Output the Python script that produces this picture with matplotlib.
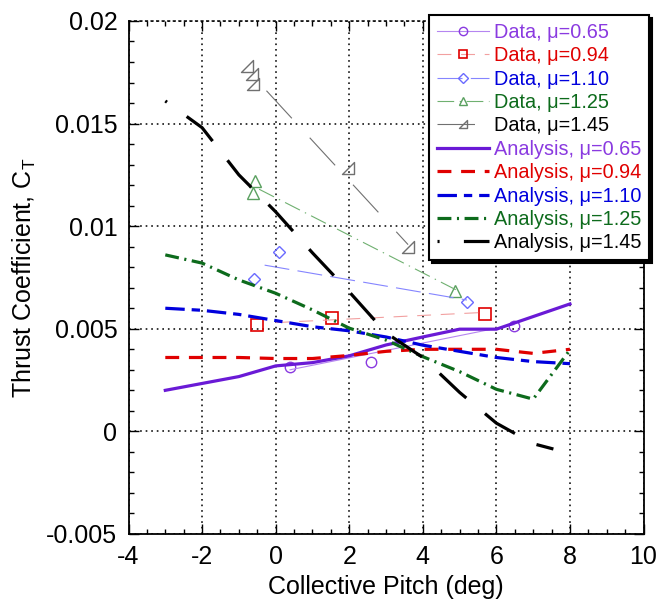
import copy
import matplotlib
matplotlib.use("Agg")
import matplotlib.pyplot as plt
from matplotlib.ticker import MultipleLocator
from matplotlib.path import Path

plt.rcParams['font.family'] = ['Liberation Sans', 'DejaVu Sans']
plt.rcParams['mathtext.fontset'] = 'custom'
plt.rcParams['mathtext.rm'] = 'Liberation Sans'
plt.rcParams['axes.unicode_minus'] = False
plt.rcParams['lines.scale_dashes'] = False

# measured data points
d065_x = [0.39, 2.59, 6.48]
d065_y = [0.00314, 0.00338, 0.00514]
d094_x = [-0.52, 1.54, 5.70]
d094_y = [0.0052, 0.00554, 0.00574]
d110_x = [-0.59, 0.10, 5.21]
d110_y = [0.00743, 0.00876, 0.00632]
d125_x = [-0.56, -0.61, 4.88]
d125_y = [0.01222, 0.01163, 0.00686]
d145_x = [-0.77, -0.65, -0.62, 1.96, 3.59]
d145_y = [0.01782, 0.01742, 0.01692, 0.01282, 0.0090]

# thin fit lines through the data
f065_x = [0.39, 6.48]
f065_y = [0.0030, 0.0052]
f094_x = [0.0, 5.7]
f094_y = [0.0053, 0.0058]
f110_x = [-0.3, 5.2]
f110_y = [0.0081, 0.0064]
f125_x = [-0.45, 4.9]
f125_y = [0.0118, 0.0069]
f145_x = [-0.25, 3.6]
f145_y = [0.0166, 0.0091]

# analysis curves
a065_x = [-3, -1, 0, 1, 2, 3, 4, 5, 6, 8]
a065_y = [0.0020, 0.00267, 0.00319, 0.00335, 0.00368, 0.00421, 0.0046, 0.00498, 0.00498, 0.00621]
a094_x = [-3, -1, 0, 1, 2, 3, 4, 5, 6, 7, 8]
a094_y = [0.0036, 0.0036, 0.00355, 0.00355, 0.0037, 0.0039, 0.0040, 0.0040, 0.0040, 0.0038, 0.0040]
a110_x = [-3, -2, -1, 0, 1, 2, 3, 4, 5, 6, 7, 8]
a110_y = [0.0060, 0.0059, 0.0057, 0.0054, 0.0051, 0.0049, 0.0046, 0.0042, 0.0039, 0.0036, 0.0034, 0.0033]
a125_x = [-3, -2, -1, 0, 1, 2, 3, 4, 5, 6, 7, 8]
a125_y = [0.0086, 0.0082, 0.00738, 0.00673, 0.00592, 0.00503, 0.00445, 0.00364, 0.00291, 0.00205, 0.00157, 0.00397]
a145_x = [-3, -2, -1, 0, 1, 2, 3, 4, 5, 6, 7, 7.55]
a145_y = [0.0161, 0.0148, 0.0125, 0.0107, 0.0087, 0.0068, 0.0048, 0.0036, 0.0019, 0.0004, -0.0006, -0.00086]

purple = '#6a1ad6'
red = '#e00000'
blue = '#0000dd'
green = '#0d6b1c'
black = '#000000'

rtri = Path([(1, 1), (1, -1), (-1, -1), (1, 1)], closed=True)

fig = plt.figure(figsize=(6.56, 6.02), dpi=100)
ax = fig.add_axes([0.1959, 0.1130, 0.7851, 0.8522])

h = []
h.append(ax.plot(d065_x, d065_y, ls='none', marker='o', ms=7.5, mfc='none', mec='#8a3ae0', mew=1.0)[0])
h.append(ax.plot(d094_x, d094_y, ls='none', marker='s', ms=8, mfc='none', mec=red, mew=1.2)[0])
h.append(ax.plot(d110_x, d110_y, ls='none', marker='D', ms=6, mfc='none', mec='#6a6aff', mew=1.0)[0])
h.append(ax.plot(d125_x, d125_y, ls='none', marker='^', ms=8, mfc='none', mec='#5aa060', mew=1.0)[0])
h.append(ax.plot(d145_x, d145_y, ls='none', marker=rtri, ms=8, mfc='none', mec='#707070', mew=1.0)[0])

fits = [
    (f065_x, f065_y, '#b585f0', '-'),
    (f094_x, f094_y, '#f2a0a0', (0, (10, 7))),
    (f110_x, f110_y, '#8585ff', (0, (18, 6))),
    (f125_x, f125_y, '#6fb070', (0, (12, 4, 1, 4))),
    (f145_x, f145_y, '#707070', (0, (27, 19))),
]
data_handles = []
for (fx, fy, c, ls), hd in zip(fits, h):
    ax.plot(fx, fy, color=c, lw=0.8, ls=ls)
    proxy = copy.copy(hd)
    proxy.set_linestyle(ls)
    proxy.set_color(c)
    proxy.set_linewidth(0.8)
    data_handles.append(proxy)

a1, = ax.plot(a065_x, a065_y, color=purple, lw=2.3, ls='-')
a2, = ax.plot(a094_x, a094_y, color=red, lw=2.3, ls=(0, (10, 7)))
a3, = ax.plot(a110_x, a110_y, color=blue, lw=2.3, ls=(0, (14, 5, 6, 5)))
a4, = ax.plot(a125_x, a125_y, color=green, lw=2.3, ls=(0, (10, 4, 1.5, 4)))
a5, = ax.plot(a145_x, a145_y, color=black, lw=2.3, ls=(24.5, (26, 17.5)))

ax.set_xlim(-4, 10)
ax.set_ylim(-0.005, 0.02)
ax.xaxis.set_major_locator(MultipleLocator(2))
ax.xaxis.set_minor_locator(MultipleLocator(0.5))
ax.yaxis.set_minor_locator(MultipleLocator(0.001))
ax.set_yticks([-0.005, 0, 0.005, 0.01, 0.015, 0.02])
ax.set_yticklabels(['-0.005', '0', '0.005', '0.01', '0.015', '0.02'])
ax.tick_params(which='both', direction='in', top=True, right=True, labelsize=18, width=1)
ax.tick_params(which='major', length=7, pad=8)
ax.tick_params(which='minor', length=3.5)
ax.grid(True, which='major', color='black', ls=(0, (1.2, 2.8)), lw=1.1)
for s in ax.spines.values():
    s.set_linewidth(1.3)
ax.spines['top'].set_linestyle((0, (1.2, 2.8)))
ax.spines['top'].set_linewidth(1.1)

ax.set_xlabel('Collective Pitch (deg)', fontsize=18, labelpad=4)
ax.set_ylabel('Thrust Coefficient, C$_\\mathrm{T}$', fontsize=18, labelpad=6)

labels = ['Data, \u03bc=0.65', 'Data, \u03bc=0.94', 'Data, \u03bc=1.10', 'Data, \u03bc=1.25', 'Data, \u03bc=1.45',
          'Analysis, \u03bc=0.65', 'Analysis, \u03bc=0.94', 'Analysis, \u03bc=1.10', 'Analysis, \u03bc=1.25',
          'Analysis, \u03bc=1.45']
text_colors = ['#8a3ae0', red, blue, green, black, '#8a3ae0', red, blue, green, black]
leg = ax.legend(data_handles + [a1, a2, a3, a4, a5], labels, loc='upper right',
                bbox_to_anchor=(649 / 656, 1 - 15 / 602), bbox_transform=fig.transFigure,
                fontsize=14.3, frameon=True, fancybox=False, shadow={'color': 'black', 'alpha': 1},
                framealpha=1, edgecolor='black', handlelength=2.6, handletextpad=0.25,
                labelspacing=0.22, borderpad=0.4, borderaxespad=0, markerscale=0.8)
leg.get_frame().set_linewidth(1.5)
for t, c in zip(leg.get_texts(), text_colors):
    t.set_color(c)

fig.savefig('out.png', dpi=100)
